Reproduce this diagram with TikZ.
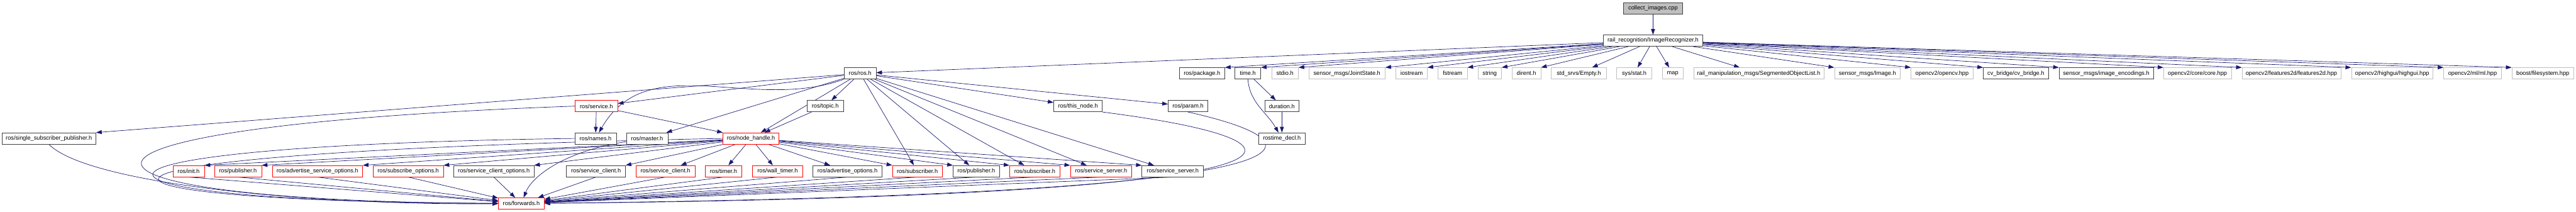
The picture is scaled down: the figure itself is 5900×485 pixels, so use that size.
\documentclass[tikz,border=0pt]{standalone}
\usepackage{fontspec}
\setmainfont{Liberation Sans}
\usetikzlibrary{arrows.meta,backgrounds}
\definecolor{edgeblue}{HTML}{191970}
\begin{document}
\begin{tikzpicture}[x=1pt,y=1pt,
 box/.style={draw,fill=white,minimum height=26pt,inner sep=0pt,line width=1pt,font=\fontsize{13.3}{15}\selectfont},
 blkbox/.style={box,draw=black!75},
 redbox/.style={box,draw=red},
 grybox/.style={box,draw=black!25},
 dep/.style={edgeblue,line width=1pt,-{Triangle[length=13pt,width=9pt]}}]
\useasboundingbox (0,0) rectangle (5900,-485);

\node[blkbox,fill=black!25,minimum width=135pt](cpp) at (3786,-19){collect\_images.cpp};
\node[blkbox,minimum width=227pt](rec) at (3786,-93){rail\_recognition/ImageRecognizer.h};

\node[blkbox,minimum width=73pt](rosh) at (1970,-168){ros/ros.h};
\node[blkbox,minimum width=104pt](pkg) at (2753,-168){ros/package.h};
\node[blkbox,minimum width=59pt](timeh) at (2858,-168){time.h};
\node[grybox,minimum width=61pt](stdio) at (2943,-168){stdio.h};
\node[grybox,minimum width=175pt](joint) at (3085,-168){sensor\_msgs/JointState.h};
\node[grybox,minimum width=72pt](iostr) at (3233,-168){iostream};
\node[grybox,minimum width=67pt](fstr) at (3327,-168){fstream};
\node[grybox,minimum width=54pt](strg) at (3412,-168){string};
\node[grybox,minimum width=66pt](dirent) at (3496,-168){dirent.h};
\node[grybox,minimum width=126pt](empty) at (3616,-168){std\_srvs/Empty.h};
\node[grybox,minimum width=80pt](stat) at (3743,-168){sys/stat.h};
\node[grybox,minimum width=47pt](map) at (3831,-168){map};
\node[grybox,minimum width=298pt](segobj) at (4028,-168){rail\_manipulation\_msgs/SegmentedObjectList.h};
\node[grybox,minimum width=151pt](image) at (4277,-168){sensor\_msgs/Image.h};
\node[grybox,minimum width=142pt](opencv) at (4448,-168){opencv2/opencv.hpp};
\node[blkbox,minimum width=149pt](cvb) at (4617,-168){cv\_bridge/cv\_bridge.h};
\node[blkbox,minimum width=216pt](enc) at (4824,-168){sensor\_msgs/image\_encodings.h};
\node[grybox,minimum width=155pt](core) at (5033,-168){opencv2/core/core.hpp};
\node[grybox,minimum width=226pt](feat) at (5248,-168){opencv2/features2d/features2d.hpp};
\node[grybox,minimum width=187pt](hgui) at (5479,-168){opencv2/highgui/highgui.hpp};
\node[grybox,minimum width=132pt](ml) at (5663,-168){opencv2/ml/ml.hpp};
\node[grybox,minimum width=142pt](fs) at (5824,-168){boost/filesystem.hpp};

\node[redbox,minimum width=97pt](service) at (1366,-243){ros/service.h};
\node[blkbox,minimum width=83pt](topic) at (1890,-243){ros/topic.h};
\node[blkbox,minimum width=111pt](thisnode) at (2469,-243){ros/this\_node.h};
\node[blkbox,minimum width=91pt](param) at (2721,-243){ros/param.h};
\node[blkbox,minimum width=79pt](dur) at (2936,-243){duration.h};

\node[blkbox,minimum width=215pt](ssp) at (112,-317){ros/single\_subscriber\_publisher.h};
\node[blkbox,minimum width=95pt](names) at (1364,-317){ros/names.h};
\node[blkbox,minimum width=95pt](master) at (1482,-317){ros/master.h};
\node[redbox,minimum width=128pt](nh) at (1720,-317){ros/node\_handle.h};
\node[blkbox,minimum width=107pt](decl) at (2936,-317){rostime\_decl.h};

\node[redbox,minimum width=72pt](init) at (432,-392){ros/init.h};
\node[redbox,minimum width=108pt](pubA) at (545,-392){ros/publisher.h};
\node[redbox,minimum width=207pt](aso) at (727,-392){ros/advertise\_service\_options.h};
\node[redbox,minimum width=161pt](subo) at (935,-392){ros/subscribe\_options.h};
\node[blkbox,minimum width=184pt](sco) at (1131,-392){ros/service\_client\_options.h};
\node[blkbox,minimum width=135pt](scA) at (1365,-392){ros/service\_client.h};
\node[redbox,minimum width=135pt](scB) at (1524,-392){ros/service\_client.h};
\node[redbox,minimum width=84pt](timer) at (1657,-392){ros/timer.h};
\node[redbox,minimum width=115pt](wtimer) at (1781,-392){ros/wall\_timer.h};
\node[blkbox,minimum width=158pt](ao) at (1941,-392){ros/advertise\_options.h};
\node[redbox,minimum width=114pt](subA) at (2101,-392){ros/subscriber.h};
\node[blkbox,minimum width=106pt](pubB) at (2236,-392){ros/publisher.h};
\node[redbox,minimum width=115pt](subB) at (2370,-392){ros/subscriber.h};
\node[redbox,minimum width=141pt](ssA) at (2522,-392){ros/service\_server.h};
\node[blkbox,minimum width=141pt](ssB) at (2686,-392){ros/service\_server.h};

\node[redbox,minimum width=105pt](fwd) at (1194,-466){ros/forwards.h};

\begin{pgfonlayer}{background}
\path[dep](cpp) edge (rec);
\path[dep](rec) edge (rosh) edge (pkg.north east) edge (timeh.north east) edge (stdio.north east)
 edge (joint.north east) edge (iostr.north east) edge (fstr.north east) edge (strg.north east)
 edge (dirent.north east) edge (empty) edge (stat) edge (map) edge (segobj)
 edge (image.north west) edge (opencv.north west) edge (cvb.north west) edge (enc.north west)
 edge (core.north west) edge (feat.north west) edge (hgui.north west) edge (ml.north west) edge (fs.north west);
\path[dep](timeh) edge (dur)  (dur) edge (decl)  (timeh.south) edge[out=-85,in=120] (decl);

\path[dep](rosh) edge (ssp.north east) edge (service) edge[out=200,in=60] (names) edge (master)
 edge (nh) edge (topic) edge (thisnode) edge (param)
 edge (subA) edge (pubB) edge (subB) edge (ssA) edge (ssB);
\path[dep](service) edge (names) edge (nh)  (topic) edge (nh);
\path[dep](nh) edge (init.north east) edge (pubA.north east) edge (aso.north east) edge (subo.north east)
 edge (sco.north east) edge (scA.north east) edge (scB) edge (timer) edge (wtimer) edge (ao)
 edge (subA.north west) edge (pubB.north west) edge (subB.north west) edge (ssA.north west) edge (ssB.north west);

\path[dep](init.south) edge (fwd)  (pubA.south) edge (fwd)  (aso.south) edge (fwd)  (subo.south) edge (fwd)
 (sco.south) edge (fwd)  (scA.south) edge (fwd)  (scB.south) edge (fwd)  (timer.south) edge (fwd)
 (wtimer.south) edge (fwd)  (ao.south) edge (fwd)  (subA.south) edge (fwd)  (pubB.south) edge (fwd)
 (subB.south) edge (fwd)  (ssA.south) edge (fwd)  (ssB.south) edge (fwd);

\draw[dep](ssp.south) .. controls (200,-420) and (700,-470) .. (fwd);
\draw[dep](service.west) .. controls (0,-290) and (50,-460) .. (fwd);
\draw[dep](names.west) .. controls (30,-335) and (90,-462) .. (fwd);
\draw[dep](nh.west) .. controls (0,-350) and (60,-460) .. (fwd);
\draw[dep](master) .. controls (1300,-345) and (1220,-400) .. (fwd);
\draw[dep](thisnode.south east) .. controls (3100,-330) and (3050,-450) .. (fwd);
\draw[dep](param.south) .. controls (3050,-330) and (3100,-445) .. (fwd);
\end{pgfonlayer}
\end{tikzpicture}
\end{document}
